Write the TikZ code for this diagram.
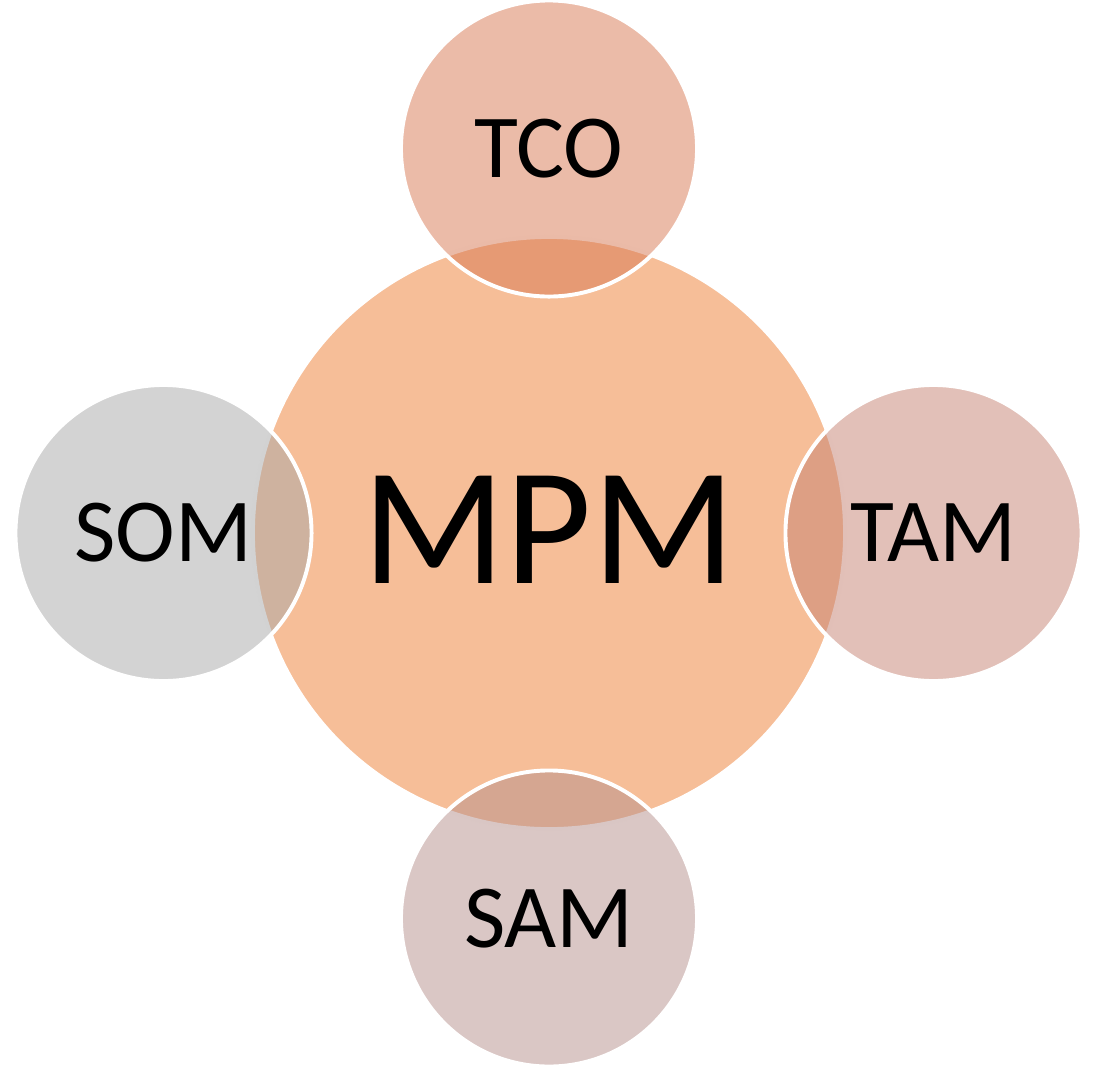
\documentclass[tikz,border=0pt]{standalone}
\usepackage{fontspec}
\setmainfont{Carlito}
\usetikzlibrary{positioning}

\definecolor{mpmfill}{RGB}{246,190,152}
\definecolor{tcofill}{RGB}{215,119,81}
\definecolor{somfill}{RGB}{167,167,167}
\definecolor{tamfill}{RGB}{197,129,113}
\definecolor{samfill}{RGB}{181,143,139}

\tikzset{
  core/.style={circle,fill=mpmfill,draw=white,line width=2.8pt,
    minimum size=14.8cm,inner sep=0pt,font=\fontsize{119}{119}\selectfont},
  part/.style={circle,fill=#1,fill opacity=0.5,text opacity=1,draw=white,
    line width=2.8pt,minimum size=7.4cm,inner sep=0pt,
    font=\fontsize{64}{64}\selectfont}
}

\begin{document}
\begin{tikzpicture}[x=0.025cm,y=-0.025cm]
  \useasboundingbox (0,0) rectangle (1100,1087);
  % centre
  \node[core] (mpm) at (549,533) {\raisebox{4pt}{MPM}};
  % around
  \node[part=tcofill] (tco) at (549,148.5) {TCO};
  \node[part=somfill] (som) at (163.5,533) {SOM};
  \node[part=tamfill] (tam) at (933.5,533) {TAM};
  \node[part=samfill] (sam) at (549,918.5) {SAM};
\end{tikzpicture}
\end{document}
